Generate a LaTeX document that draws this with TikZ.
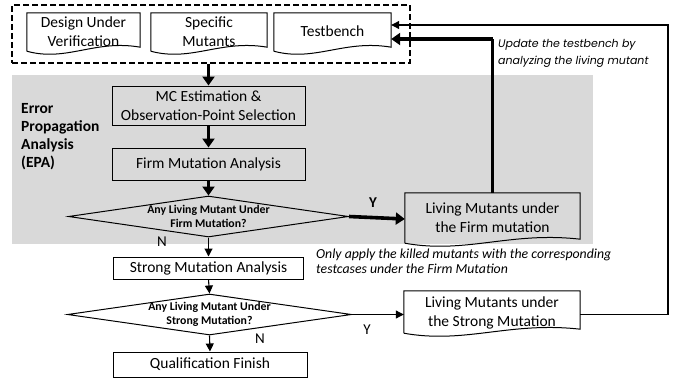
\documentclass[tikz,border=0pt]{standalone}
\usepackage{fontspec}
\setmainfont{Carlito}
\newfontfamily\notefont{Poppins}
\usetikzlibrary{shapes.geometric,arrows.meta,calc}
\definecolor{epagray}{HTML}{D9D9D9}
\newcommand{\docshape}[1]{%
  \draw[line width=1pt] (#1.south west) ++(0,-2) -- (#1.north west) -- (#1.north east) -- ($(#1.south east)+(0,-6)$)
    .. controls ($(#1.south west)!0.6!(#1.south east)+(0,-14)$) and ($(#1.south west)!0.35!(#1.south east)+(0,9)$) .. ($(#1.south west)+(0,-2)$);}
\tikzset{
  docnode/.style={inner sep=0pt, align=center, font=\fontsize{15.5}{19}\selectfont},
  procbox/.style={draw, line width=1pt, inner sep=0pt, align=center, font=\fontsize{15.5}{18.5}\selectfont},
  dia/.style={diamond, draw, line width=1pt, inner sep=0pt},
  diatext/.style={align=center, font=\bfseries\fontsize{11.8}{14}\selectfont, inner sep=0pt},
  thickarrow/.style={line width=3.6pt, -{Triangle[length=9pt, width=12pt]}},
  thinarrow/.style={line width=1.1pt, -{Triangle[length=8pt, width=8pt]}},
  lbl/.style={font=\fontsize{15}{17}\selectfont, inner sep=0pt},
  note/.style={align=left, inner sep=0pt, anchor=north west, font=\itshape\fontsize{13.8}{15}\selectfont},
}
\begin{document}
\begin{tikzpicture}[x=1pt,y=-1pt]
\useasboundingbox (0,0) rectangle (681,381);
% gray EPA region
\fill[epagray] (12,75) rectangle (593,244);
% container
\node[draw, dashed, dash pattern=on 6pt off 3pt, line width=1.8pt, minimum width=398pt, minimum height=58pt, inner sep=0pt] (container) at (211,34) {};
% documents
\node[docnode, minimum width=113pt, minimum height=40pt] (duv) at (83.5,33) {\raisebox{1pt}{\begin{tabular}{@{}c@{}}Design Under\\Verification\end{tabular}}};
\node[docnode, minimum width=116pt, minimum height=40pt] (sm) at (209,33) {\raisebox{1pt}{\begin{tabular}{@{}c@{}}Specific\\Mutants\end{tabular}}};
\node[docnode, minimum width=117pt, minimum height=40pt] (tb) at (332.5,33) {\raisebox{3pt}{Testbench}};
\docshape{duv}\docshape{sm}\docshape{tb}
% EPA label
\node[align=left, anchor=west, inner sep=0pt, font=\bfseries\fontsize{15.5}{18}\selectfont] (epa) at (21,137) {Error\\Propagation\\Analysis\\(EPA)};
% process
\node[procbox, minimum width=193pt, minimum height=39pt] (mc) at (208.5,105.5) {MC Estimation \&\\Observation-Point Selection};
\node[procbox, minimum width=193pt, minimum height=32pt] (fma) at (208.5,164) {Firm Mutation Analysis};
\node[dia, minimum width=280pt, minimum height=41pt] (d1) at (208.5,216.5) {};
\node[diatext] (d1t) at (208.5,216) {Any Living Mutant Under\\Firm Mutation?};
\node[docnode, minimum width=175pt, minimum height=52pt] (lf) at (492.5,219) {\raisebox{7pt}{\begin{tabular}{@{}c@{}}Living Mutants under\\the Firm mutation\end{tabular}}};
\docshape{lf}
\node[procbox, minimum width=190pt, minimum height=22pt] (sma) at (208.5,268) {Strong Mutation Analysis};
\node[dia, minimum width=284pt, minimum height=41pt] (d2) at (209.5,314.5) {};
\node[diatext] (d2t) at (209.5,314) {Any Living Mutant Under\\Strong Mutation?};
\node[procbox, minimum width=194pt, minimum height=25pt] (qf) at (210,364.5) {Qualification Finish};
\node[docnode, minimum width=176pt, minimum height=44pt] (ls) at (492,313) {\raisebox{4pt}{\begin{tabular}{@{}c@{}}Living Mutants under\\the Strong Mutation\end{tabular}}};
\docshape{ls}
% labels
\node[lbl, font=\bfseries\fontsize{15}{17}\selectfont] (y1) at (373,203) {Y};
\node[lbl] (n1) at (162,242) {N};
\node[lbl] (y2) at (367,330) {Y};
\node[lbl] (n2) at (260,339) {N};
\node[note] (note1) at (316,248.5) {Only apply the killed mutants with the corresponding\\testcases under the Firm Mutation};
\node[note, font=\notefont\itshape\fontsize{11}{16.5}\selectfont] (note2) at (498,39.5) {Update the testbench by\\analyzing the living mutant};
% arrows
\coordinate (rc) at (668,0);
\draw[thickarrow] (mc.north |- container.south) -- (mc.north);
\draw[thickarrow] (mc.south) -- (fma.north);
\draw[thickarrow] (fma.south) -- (d1.north);
\draw[thickarrow] (d1.east) -- (lf.west);
\draw[line width=3.6pt] (lf.north) -- ($(lf.north |- tb.east)+(0,6)$);
\draw[thickarrow] ($(lf.north |- tb.east)+(0,6)$) -- ($(tb.east)+(0,6)$);
\draw[thinarrow] (d1.south) -- (sma.north);
\draw[thinarrow] (sma.south) -- (d2.north);
\draw[thinarrow] (d2.south) -- (qf.north);
\draw[thinarrow] (d2.east) -- (ls.west |- d2.east);
\draw[thinarrow] (ls.east |- d2.east) -- (rc |- d2.east) -- ($(rc |- tb.east)+(0,-8)$) -- ($(tb.east)+(0,-8)$);
\end{tikzpicture}
\end{document}
